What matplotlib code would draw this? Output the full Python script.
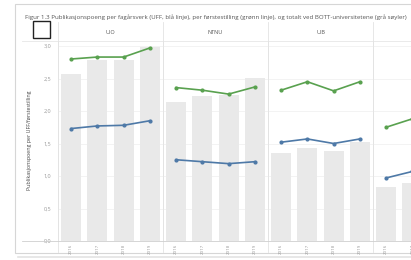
import matplotlib.pyplot as plt
from matplotlib.patches import Rectangle
from matplotlib.lines import Line2D

plt.rcParams['font.family'] = ['Open Sans', 'DejaVu Sans']

years = ["2016", "2017", "2018", "2019"]
institutions = ["UiO", "NTNU", "UiB", "UiT"]
total = [[2.57, 2.78, 2.79, 2.98],
         [2.14, 2.23, 2.25, 2.51],
         [1.35, 1.43, 1.38, 1.52],
         [0.83, 0.89, 0.95, 1.00]]
forstestilling = [[2.80, 2.83, 2.83, 2.97],
                  [2.36, 2.32, 2.26, 2.37],
                  [2.32, 2.45, 2.31, 2.45],
                  [1.75, 1.88, 1.92, 2.00]]
uff = [[1.73, 1.77, 1.78, 1.85],
       [1.25, 1.22, 1.19, 1.22],
       [1.52, 1.57, 1.50, 1.57],
       [0.97, 1.07, 1.05, 1.10]]
yticks = [0.0, 0.5, 1.0, 1.5, 2.0, 2.5, 3.0]

W, H = 411, 260
fig = plt.figure(figsize=(W / 100, H / 100), dpi=100)

def fx(px):
    return px / W

def fy(py):
    return 1 - py / H

# card
fig.patches.append(Rectangle((fx(15), fy(253)), fx(420) - fx(15), fy(4) - fy(253),
                             transform=fig.transFigure, facecolor='white',
                             edgecolor='#d6d6d6', linewidth=0.8, zorder=-2))
fig.lines.append(Line2D([fx(18), fx(411)], [fy(257), fy(257)], transform=fig.transFigure,
                        color='#e3e3e3', linewidth=1.2, zorder=-2))

fig.text(fx(25), fy(17), "Figur 1.3 Publikasjonspoeng per fagårsverk (UFF, blå linje), per "
         "førstestilling (grønn linje), og totalt ved BOTT-universitetene (grå søyler)",
         fontsize=4.45, color='#555555', va='center', ha='left')

fig.patches.append(Rectangle((fx(33), fy(38)), fx(17), fy(21) - fy(38),
                             transform=fig.transFigure, facecolor='white',
                             edgecolor='#222222', linewidth=1.0, zorder=5))

fig.text(fx(30), fy(140), "Publikasjonspoeng per UFF/førstestilling", rotation=90,
         fontsize=3.8, color='#444444', ha='center', va='center')

# header line and axis base line
fig.lines.append(Line2D([fx(22), fx(411)], [fy(41), fy(41)], transform=fig.transFigure,
                        color='#e6e6e6', linewidth=0.6, zorder=-1))
fig.lines.append(Line2D([fx(22), fx(411)], [fy(241), fy(241)], transform=fig.transFigure,
                        color='#cfcfcf', linewidth=0.6, zorder=4))

top_px, bot_px = 41, 241
ymax = (bot_px - top_px) / 65.0
panel_w = 105
left0 = 58

for i, inst in enumerate(institutions):
    l = left0 + panel_w * i
    ax = fig.add_axes([fx(l), fy(bot_px), fx(panel_w), fy(top_px) - fy(bot_px)])
    x = list(range(len(years)))
    ax.bar(x, total[i], width=0.77, color='#e9e9e9', zorder=1)
    ax.plot(x, forstestilling[i], color='#59a14f', lw=1.2, marker='o', ms=2, zorder=3)
    ax.plot(x, uff[i], color='#4e79a7', lw=1.2, marker='o', ms=2, zorder=3)
    ax.set_xlim(-0.5, 3.5)
    ax.set_ylim(0, ymax)
    ax.set_yticks(yticks)
    ax.yaxis.grid(True, color='#efefef', linewidth=0.5, zorder=0)
    ax.set_axisbelow(True)
    for s in ['top', 'right', 'bottom']:
        ax.spines[s].set_visible(False)
    ax.spines['left'].set_color('#e3e3e3')
    ax.spines['left'].set_linewidth(0.6)
    ax.tick_params(length=0, pad=2)
    ax.set_xticks(x)
    ax.set_xticklabels(years, rotation=90, fontsize=3.2, color='#999999')
    if i == 0:
        ax.set_yticklabels([f"{t:.1f}".replace('.', ',') for t in yticks],
                           fontsize=4, color='#999999')
        ax.tick_params(axis='y', pad=5)
    else:
        ax.set_yticklabels([])
    ax.set_facecolor('none')
    fig.text(fx(l + panel_w / 2), fy(32), inst, fontsize=4, color='#555555',
             ha='center', va='center')
    fig.lines.append(Line2D([fx(l), fx(l)], [fy(252), fy(22)], transform=fig.transFigure,
                            color='#e3e3e3', linewidth=0.6, zorder=-1))

fig.savefig("out.png", dpi=100)
